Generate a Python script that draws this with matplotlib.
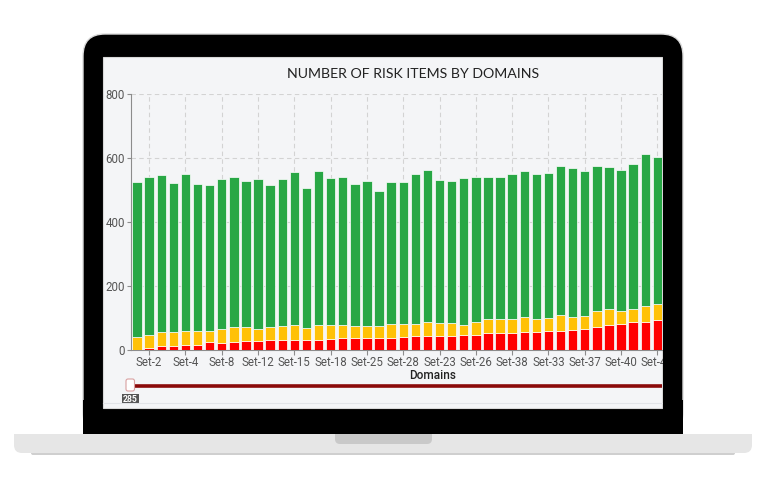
import numpy as np
import matplotlib
matplotlib.use('Agg')
import matplotlib.pyplot as plt
from matplotlib.patches import Rectangle, FancyBboxPatch

# Risk items per domain (stacked: high / medium / low)
high = [1, 6, 12, 12, 15, 15, 24, 23, 25, 28, 28, 31, 31, 31, 31, 31, 35, 36, 37, 37, 39, 39,
        41, 43, 43, 44, 45, 47, 47, 52, 52, 52, 55, 57, 59, 59, 64, 65, 73, 79, 82, 86, 89, 93]
medium = [40, 42, 45, 45, 43, 45, 36, 44, 48, 45, 38, 41, 44, 46, 39, 46, 44, 41, 37, 39, 37, 41,
          41, 37, 43, 40, 39, 32, 39, 44, 44, 44, 49, 40, 42, 49, 40, 41, 49, 48, 41, 43, 47, 50]
low = [485, 492, 489, 466, 491, 458, 457, 467, 467, 454, 467, 445, 460, 479, 436, 483, 458, 465, 445, 453, 421, 444,
       442, 469, 475, 446, 445, 460, 454, 445, 446, 455, 455, 452, 453, 468, 466, 454, 452, 446, 438, 452, 477, 459]
tick_labels = ['Set-2', 'Set-4', 'Set-8', 'Set-12', 'Set-15', 'Set-18', 'Set-25', 'Set-28',
               'Set-23', 'Set-26', 'Set-38', 'Set-33', 'Set-37', 'Set-40', 'Set-41']
y_ticks = [0, 200, 400, 600, 800]
slider_value = '285'

W, H = 766, 490
screen_bg = '#f4f5f7'

fig = plt.figure(figsize=(W / 100, H / 100), dpi=100)
fig.patch.set_facecolor('white')

# --- laptop body (pixel coords) ---
bg = fig.add_axes([0, 0, 1, 1], zorder=0)
bg.set_xlim(0, W)
bg.set_ylim(H, 0)
bg.axis('off')

# bezel
bg.add_patch(FancyBboxPatch((83, 34), 600, 400, boxstyle='round,pad=0,rounding_size=22',
                            fc='black', ec='#dcdcdc', lw=1))
bg.add_patch(Rectangle((83, 400), 600, 34, fc='black', ec='none'))
# shadow under base
bg.add_patch(FancyBboxPatch((31, 450), 704, 5, boxstyle='round,pad=0,rounding_size=2',
                            fc='#cfcfcf', ec='none'))
# base
bg.add_patch(FancyBboxPatch((14, 434), 738, 19, boxstyle='round,pad=0,rounding_size=8',
                            fc='#e6e6e6', ec='none'))
bg.add_patch(Rectangle((14, 434), 738, 8, fc='#e6e6e6', ec='none'))
# notch
bg.add_patch(FancyBboxPatch((335, 434), 97, 10, boxstyle='round,pad=0,rounding_size=5',
                            fc='#c9c9c9', ec='none'))
bg.add_patch(Rectangle((335, 434), 97, 5, fc='#c9c9c9', ec='none'))
# screen
bg.add_patch(Rectangle((103, 57), 559, 351, fc=screen_bg, ec='#d8d8d8', lw=0.8))

# slider below chart
bg.plot([131, 662], [385.5, 385.5], color='#8b0a0a', lw=2.6, solid_capstyle='butt')
bg.plot([103, 662], [403, 403], color='#e2e4e8', lw=0.8)
bg.add_patch(FancyBboxPatch((126, 379), 8.5, 12, boxstyle='round,pad=0,rounding_size=2',
                            fc='white', ec='#d9a0a0', lw=0.8, zorder=3))
bg.add_patch(Rectangle((122, 393.5), 16.5, 10.5, fc='#555555', ec='none'))
bg.text(130.2, 399, slider_value, color='white', fontsize=6.2, fontweight='bold',
        ha='center', va='center', family='Roboto')

# --- chart ---
x0, x1, ytop, ybot = 131, 662, 94, 350
pitch = 12.1
ax = fig.add_axes([x0 / W, 1 - ybot / H, (x1 - x0) / W, (ybot - ytop) / H], zorder=2)
ax.set_facecolor(screen_bg)

x = np.arange(len(high))
bw = 0.77
ax.bar(x, high, bw, color='#ff0000', edgecolor='#ffffff', linewidth=0.5, zorder=3)
ax.bar(x, medium, bw, bottom=high, color='#ffc107', edgecolor='#ffffff', linewidth=0.5, zorder=3)
bottom2 = [h + m for h, m in zip(high, medium)]
ax.bar(x, low, bw, bottom=bottom2, color='#28a745', edgecolor='#ffffff', linewidth=0.5, zorder=3)

ax.set_xlim(-0.5, -0.5 + (x1 - x0) / pitch)
ax.set_ylim(0, 800)
ax.set_yticks(y_ticks)
tick_pos = np.arange(1, len(high), 3)[:len(tick_labels)]
ax.set_xticks(tick_pos)
ax.set_xticklabels(tick_labels)

ax.grid(True, color='#d3d3d3', linestyle=(0, (4, 3)), linewidth=0.8, zorder=0)
for s in ['top', 'right']:
    ax.spines[s].set_visible(False)
ax.spines['left'].set_color('#8c8c8c')
ax.spines['bottom'].set_color('#8c8c8c')
ax.tick_params(axis='y', length=3, width=0.8, color='#8c8c8c', pad=1.5,
               labelsize=8.3, labelcolor='#555555')
ax.tick_params(axis='x', length=3.5, width=0.8, color='#8c8c8c', pad=1,
               labelsize=8.3, labelcolor='#555555')
for lab in ax.get_xticklabels() + ax.get_yticklabels():
    lab.set_family('Roboto')

ax.set_xlabel('Domains', fontsize=8.5, family='Roboto', fontweight='medium', color='#222222')
ax.xaxis.set_label_coords((433 - x0) / (x1 - x0), -0.075)

fig.text(413 / W, 1 - 74.5 / H, 'NUMBER OF RISK ITEMS BY DOMAINS', ha='center', va='center',
         fontsize=10.2, family='Lato', color='#222222')

# right bezel strip drawn over the clipped chart edge
ov = fig.add_axes([0, 0, 1, 1], zorder=3)
ov.set_xlim(0, W)
ov.set_ylim(H, 0)
ov.axis('off')
ov.patch.set_alpha(0)
ov.add_patch(Rectangle((662.5, 57), 18, 352, fc='black', ec='none'))

plt.savefig('out.png', dpi=100)
